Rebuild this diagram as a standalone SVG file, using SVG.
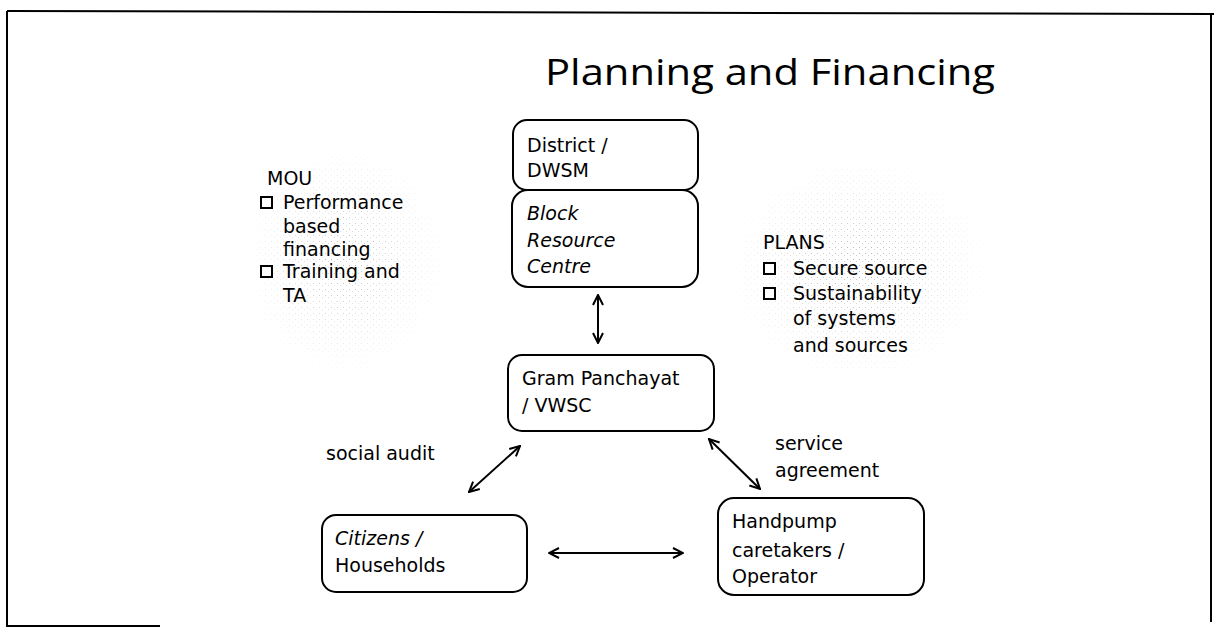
<svg xmlns="http://www.w3.org/2000/svg" width="1214" height="635" viewBox="0 0 1214 635">
<defs>
<style>
.box{fill:#fff;stroke:#000;stroke-width:2}
.t{font-family:"DejaVu Sans","Liberation Sans",sans-serif;font-size:19px;fill:#000}
.it{font-style:italic}
.con{stroke:#000;stroke-width:2;fill:none;marker-start:url(#ah);marker-end:url(#ah)}
.cb{fill:#fff;stroke:#000;stroke-width:2}
</style>
<marker id="ah" viewBox="0 0 12 12" refX="11" refY="6" markerWidth="12" markerHeight="12" markerUnits="userSpaceOnUse" orient="auto-start-reverse">
<path d="M1,1 L11,6 L1,11" fill="none" stroke="#000" stroke-width="2"/>
</marker>
<pattern id="dots" width="6" height="6" patternUnits="userSpaceOnUse">
<rect x="1" y="1" width="1" height="1" fill="#999"/>
<rect x="4" y="3" width="1" height="1" fill="#bbb"/>
</pattern>
<radialGradient id="fade">
<stop offset="0" stop-color="#fff" stop-opacity="1"/>
<stop offset="1" stop-color="#fff" stop-opacity="0"/>
</radialGradient>
<mask id="m1"><ellipse cx="345" cy="260" rx="105" ry="120" fill="url(#fade)"/></mask>
<mask id="m2"><ellipse cx="860" cy="270" rx="135" ry="115" fill="url(#fade)"/></mask>
</defs>
<rect width="1214" height="635" fill="#fff"/>
<g id="frame" stroke="#000" stroke-width="2" fill="none">
<path d="M7,11 L1214,14"/>
<path d="M7,11 L7,626 L160,626"/>
<path d="M1211,14 L1211,622"/>
</g>
<g id="title"><text x="545" y="85" font-family="'Open Sans','Liberation Sans',sans-serif" font-size="36" textLength="450" lengthAdjust="spacingAndGlyphs">Planning and Financing</text></g>
<g id="mou">
<rect x="245" y="150" width="205" height="230" fill="url(#dots)" mask="url(#m1)" opacity="0.7"/>
<text class="t" x="267" y="185">MOU</text>
<rect class="cb" x="261" y="197" width="11" height="11"/>
<text class="t" x="283" y="209">Performance</text>
<text class="t" x="283" y="233">based</text>
<text class="t" x="283" y="256">financing</text>
<rect class="cb" x="261" y="266" width="11" height="11"/>
<text class="t" x="283" y="278">Training and</text>
<text class="t" x="283" y="302">TA</text>
</g>
<g id="plans">
<rect x="725" y="160" width="270" height="230" fill="url(#dots)" mask="url(#m2)" opacity="0.8"/>
<text class="t" x="763" y="249">PLANS</text>
<rect class="cb" x="764" y="263" width="11" height="11"/>
<text class="t" x="793" y="275">Secure source</text>
<rect class="cb" x="764" y="288" width="11" height="11"/>
<text class="t" x="793" y="300">Sustainability</text>
<text class="t" x="793" y="325">of systems</text>
<text class="t" x="793" y="352">and sources</text>
</g>
<g id="district">
<rect class="box" x="513" y="120" width="185" height="70" rx="14"/>
<text class="t" x="527" y="152">District /</text>
<text class="t" x="527" y="177">DWSM</text>
</g>
<g id="block">
<rect class="box" x="512" y="190" width="186" height="97" rx="16"/>
<text class="t it" x="527" y="220">Block</text>
<text class="t it" x="527" y="247">Resource</text>
<text class="t it" x="527" y="273">Centre</text>
</g>
<g id="gram">
<rect class="box" x="508" y="355" width="206" height="76" rx="14"/>
<text class="t" x="522" y="385">Gram Panchayat</text>
<text class="t" x="522" y="412">/ VWSC</text>
</g>
<g id="citizens">
<rect class="box" x="322" y="515" width="205" height="77" rx="14"/>
<text class="t it" x="335" y="545">Citizens /</text>
<text class="t" x="335" y="572">Households</text>
</g>
<g id="handpump">
<rect class="box" x="718" y="498" width="206" height="97" rx="16"/>
<text class="t" x="732" y="528">Handpump</text>
<text class="t" x="732" y="557">caretakers /</text>
<text class="t" x="732" y="583">Operator</text>
</g>
<g id="labels">
<text class="t" x="326" y="460">social audit</text>
<text class="t" x="775" y="450">service</text>
<text class="t" x="775" y="477">agreement</text>
</g>
<g id="connectors">
<line class="con" x1="598" y1="295" x2="598" y2="343"/>
<line class="con" x1="469" y1="492" x2="520" y2="446"/>
<line class="con" x1="709" y1="439" x2="760" y2="489"/>
<line class="con" x1="549" y1="553" x2="683" y2="553"/>
</g>
</svg>
